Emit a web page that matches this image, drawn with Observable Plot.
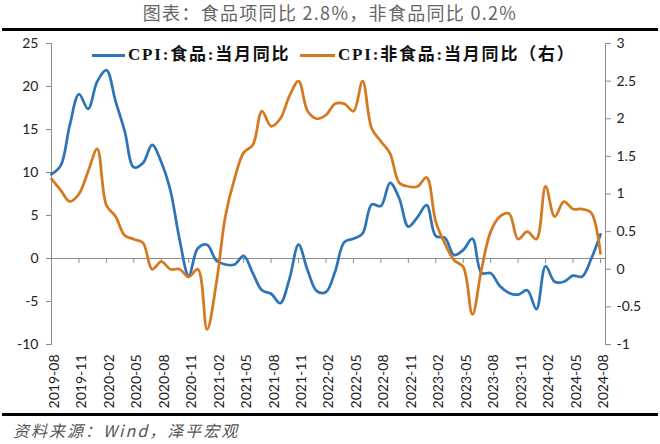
<!DOCTYPE html>
<html><head><meta charset="utf-8">
<script src="https://cdn.jsdelivr.net/npm/d3@7"></script>
<script src="https://cdn.jsdelivr.net/npm/@observablehq/plot@0.6"></script>
<style>
body{margin:0;background:#fff;}
#wrap{position:relative;width:660px;height:444px;overflow:hidden;font-family:"Noto Sans CJK SC",sans-serif;}
#title{position:absolute;top:1px;left:0;width:660px;text-align:center;font-size:18px;line-height:22px;color:#666;letter-spacing:1.3px;white-space:pre;}
.hr{position:absolute;left:2px;width:656px;height:3px;background:#000;}
#chart{position:absolute;top:30px;left:0;}
.lg{position:absolute;font-family:"Liberation Serif","Noto Sans CJK SC",serif;font-weight:bold;font-size:17px;line-height:20px;color:#111;letter-spacing:1.8px;white-space:nowrap;}
.sw{position:absolute;height:3px;}
#source{position:absolute;top:419px;left:13px;font-size:16px;line-height:22px;font-style:italic;color:#555;letter-spacing:2px;white-space:pre;}
</style>
</head><body>
<div id="wrap">
  <div id="title">图表：食品项同比 2.8%，非食品同比 0.2%</div>
  <div class="hr" style="top:28px"></div>
  <div id="chart"></div>
  <div class="sw" style="left:92px;top:54px;width:33px;background:#2E74B7"></div>
  <div class="lg" style="left:128px;top:45px">CPI:食品:当月同比</div>
  <div class="sw" style="left:300px;top:54px;width:35px;background:#D6781F"></div>
  <div class="lg" style="left:338px;top:45px">CPI:非食品:当月同比（右）</div>
  <div class="hr" style="top:413px"></div>
  <div id="source">资料来源：Wind，泽平宏观</div>
</div>
<script>
const months = ["2019-08","2019-09","2019-10","2019-11","2019-12","2020-01","2020-02","2020-03","2020-04","2020-05","2020-06","2020-07","2020-08","2020-09","2020-10","2020-11","2020-12","2021-01","2021-02","2021-03","2021-04","2021-05","2021-06","2021-07","2021-08","2021-09","2021-10","2021-11","2021-12","2022-01","2022-02","2022-03","2022-04","2022-05","2022-06","2022-07","2022-08","2022-09","2022-10","2022-11","2022-12","2023-01","2023-02","2023-03","2023-04","2023-05","2023-06","2023-07","2023-08","2023-09","2023-10","2023-11","2023-12","2024-01","2024-02","2024-03","2024-04","2024-05","2024-06","2024-07","2024-08"];
// CPI:食品:当月同比 (left axis)
const food = [9.8,10.8,15.5,19.1,17.4,20.6,21.9,18.3,14.8,10.6,11.1,13.2,11.2,7.9,2.2,-2.0,1.2,1.6,-0.2,-0.7,-0.7,0.3,-1.7,-3.7,-4.1,-5.2,-2.4,1.6,-1.4,-3.8,-3.9,-1.5,1.9,2.3,2.9,6.3,6.1,8.8,7.0,3.7,4.8,6.2,2.6,2.4,0.4,1.0,2.3,-1.7,-1.7,-3.2,-4.0,-4.2,-3.7,-5.9,-0.9,-2.7,-2.7,-2.0,-2.1,0.0,2.8];
// CPI:非食品:当月同比 (right axis)
const nonfood = [1.2,1.05,0.9,1.0,1.3,1.6,0.85,0.7,0.45,0.4,0.35,0.0,0.1,0.0,0.0,-0.1,0.0,-0.8,-0.2,0.7,1.2,1.55,1.65,2.1,1.9,2.0,2.3,2.5,2.1,2.0,2.05,2.2,2.2,2.1,2.5,1.87,1.7,1.54,1.15,1.1,1.1,1.22,0.63,0.34,0.12,0.03,-0.6,0.0,0.5,0.7,0.74,0.4,0.5,0.4,1.1,0.7,0.9,0.8,0.8,0.75,0.21];
const xTickLabels = ["2019-08","2019-11","2020-02","2020-05","2020-08","2020-11","2021-02","2021-05","2021-08","2021-11","2022-02","2022-05","2022-08","2022-11","2023-02","2023-05","2023-08","2023-11","2024-02","2024-05","2024-08"];
const leftTicks = [-10,-5,0,5,10,15,20,25];
const rightTicks = [-1,-0.5,0,0.5,1,1.5,2,2.5,3];
const leftDomain = [-10,25];
const rightDomain = [-1,3];

const toLeft = r => leftDomain[0] + (r - rightDomain[0]) * (leftDomain[1]-leftDomain[0])/(rightDomain[1]-rightDomain[0]);
const fromLeft = v => rightDomain[0] + (v - leftDomain[0]) * (rightDomain[1]-rightDomain[0])/(leftDomain[1]-leftDomain[0]);

const data = months.map((m,i)=>({i, m, food: food[i], nonfood: toLeft(nonfood[i])}));
const tickIdx = xTickLabels.map(l => months.indexOf(l));
const axisColor = "#8c8c8c";

const chart = Plot.plot({
  width: 660, height: 384,
  marginTop: 13, marginBottom: 70, marginLeft: 51, marginRight: 55,
  x: {type:"linear", domain:[0, 60.55]},
  y: {domain: leftDomain},
  style: {fontFamily:"Lato, 'Open Sans', sans-serif", fontSize:"14px", color:"#222", background:"transparent"},
  marks: [
    Plot.frame({anchor:"left", stroke:axisColor}),
    Plot.frame({anchor:"right", stroke:axisColor}),
    Plot.ruleY([0], {stroke:axisColor}),
    Plot.ruleX(tickIdx, {x: d=>d, y1:0, y2:0, insetBottom:-5, stroke:axisColor}),
    Plot.axisY(leftTicks, {anchor:"left", tickSize:5, tickPadding:8, stroke:axisColor, fill:"#222", tickFormat: d=>String(d), label:null}),
    Plot.axisY(rightTicks.map(toLeft), {anchor:"right", tickSize:5, tickPadding:6, stroke:axisColor, fill:"#222", tickFormat: d=>String(Math.round(fromLeft(d)*10)/10), label:null}),
    Plot.axisX(tickIdx, {anchor:"bottom", tickSize:0, tickRotate:-90, tickPadding:10, dx:3, fill:"#222", tickFormat: i=>months[i], label:null}),
    Plot.line(data, {x:"i", y:"food", stroke:"#2E74B7", strokeWidth:2.75, curve:"catmull-rom"}),
    Plot.line(data, {x:"i", y:"nonfood", stroke:"#D6781F", strokeWidth:2.75, curve:"catmull-rom"})
  ]
});
document.getElementById("chart").appendChild(chart);
</script>
</body></html>
